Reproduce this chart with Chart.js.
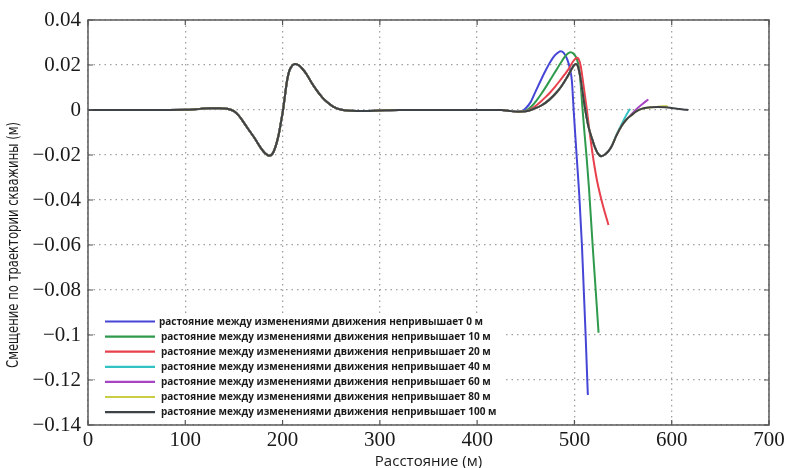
<!DOCTYPE html>
<html><head><meta charset="utf-8">
<script src="https://cdn.jsdelivr.net/npm/chart.js@4.4.1/dist/chart.umd.min.js"></script>
<style>html,body{margin:0;padding:0;background:#fff;}canvas{display:block;}</style>
</head><body>
<canvas id="c" width="791" height="468"></canvas>
<script>
// ---- tick labels ----
const xTickValues = [0, 100, 200, 300, 400, 500, 600, 700];
const xTickLabels = ['0', '100', '200', '300', '400', '500', '600', '700'];
const yTickValues = [0.04, 0.02, 0, -0.02, -0.04, -0.06, -0.08, -0.1, -0.12, -0.14];
const yTickLabels = ['0.04', '0.02', '0', '\u22120.02', '\u22120.04', '\u22120.06', '\u22120.08', '\u22120.1', '\u22120.12', '\u22120.14'];
const xTitle = 'Расстояние (м)';
const yTitle = 'Смещение по траектории скважины (м)';

// ---- series names ----
const seriesLabels = [
  'растояние между изменениями движения непривышает 0 м',
  'растояние между изменениями движения непривышает 10 м',
  'растояние между изменениями движения непривышает 20 м',
  'растояние между изменениями движения непривышает 40 м',
  'растояние между изменениями движения непривышает 60 м',
  'растояние между изменениями движения непривышает 80 м',
  'растояние между изменениями движения непривышает 100 м'
];

// ---- common part of the trajectory (identical for all series) ----
const baseX = [0, 60, 100, 115, 125, 135, 143, 150, 155, 160, 167, 172, 177, 182, 186, 189.5, 192.6, 196, 198.5, 200.5, 202.5, 204.6, 207, 210, 213, 217, 221, 225, 230, 235.5, 241, 246, 252, 259.5, 270, 285, 300, 320, 360, 400, 425, 435];
const baseY = [0, 0, 0.0001, 0.0005, 0.0008, 0.0008, 0.0006, -0.0005, -0.0025, -0.0055, -0.0099, -0.013, -0.0165, -0.0192, -0.0203, -0.0195, -0.0165, -0.011, -0.005, 0, 0.0065, 0.013, 0.0175, 0.0198, 0.0205, 0.0198, 0.018, 0.0157, 0.012, 0.0085, 0.0055, 0.0034, 0.0015, 0.0002, -0.0003, -0.0004, -0.0002, 0, 0, 0, 0, -0.0005];

// ---- individual tails ----
const tail0X = [442, 446, 450, 455, 460, 465, 470, 475, 479, 482.5, 485.6, 489, 492.3, 495, 497.4, 499.2, 501, 503, 505, 507.7, 509.6, 511.5, 513.2, 513.8];
const tail0Y = [-0.0008, -0.0005, 0.0008, 0.0035, 0.0082, 0.0128, 0.0172, 0.0212, 0.0238, 0.0253, 0.0261, 0.0254, 0.0228, 0.019, 0.0129, 0, -0.012, -0.025, -0.038, -0.06, -0.08, -0.1, -0.12, -0.1267];

const tail10X = [442, 446, 451, 456, 461, 466, 471, 476, 481, 486, 490, 493, 495.8, 499, 502.6, 505, 506.8, 508.4, 510.5, 512.7, 515, 519, 522, 524.8];
const tail10Y = [-0.0008, -0.0008, 0, 0.0017, 0.0042, 0.0072, 0.0105, 0.014, 0.0175, 0.021, 0.0236, 0.025, 0.0257, 0.0251, 0.0225, 0.018, 0.0095, 0, -0.011, -0.022, -0.035, -0.062, -0.081, -0.099];

const tail20X = [442, 449.7, 455, 460, 465, 470, 475, 480, 485, 490, 494, 498, 501, 502.8, 504.5, 506.5, 509, 512.8, 515.5, 518.3, 521, 523.5, 529, 535];
const tail20Y = [-0.0008, -0.0006, 0.0004, 0.0018, 0.0036, 0.0056, 0.0078, 0.0103, 0.013, 0.0158, 0.0182, 0.0212, 0.0228, 0.0232, 0.0225, 0.0195, 0.012, 0, -0.0095, -0.0185, -0.026, -0.032, -0.042, -0.0511];

const tail40X = [442, 450, 458, 466, 474, 482, 487, 492, 496.5, 499.5, 501.5, 503.5, 505.5, 508, 511.2, 514.5, 517.9, 521, 524, 527.5, 531, 535, 538.4, 543, 548.6, 553, 557.2];
const tail40Y = [-0.0008, -0.0006, 0.0005, 0.002, 0.0045, 0.008, 0.0108, 0.0142, 0.0177, 0.0198, 0.0204, 0.0195, 0.016, 0.009, 0, -0.0075, -0.0125, -0.0165, -0.0193, -0.0206, -0.0199, -0.0183, -0.016, -0.0112, -0.0062, -0.0025, 0.0005];

const tail60X = [442, 450, 458, 466, 474, 482, 487, 492, 496.5, 499.5, 501.5, 503.5, 505.5, 508, 511.2, 514.5, 517.9, 521, 524, 527.5, 531, 535, 538.4, 543, 548.6, 553.5, 558.9, 564, 570, 576];
const tail60Y = [-0.0008, -0.0006, 0.0005, 0.002, 0.0045, 0.008, 0.0108, 0.0142, 0.0177, 0.0198, 0.0204, 0.0195, 0.016, 0.009, 0, -0.0075, -0.0125, -0.0165, -0.0193, -0.0206, -0.0199, -0.0183, -0.016, -0.0115, -0.007, -0.0042, -0.0018, 0.0005, 0.0027, 0.0047];

const tail80X = [442, 450, 458, 466, 474, 482, 487, 492, 496.5, 499.5, 501.5, 503.5, 505.5, 508, 511.2, 514.5, 517.9, 521, 524, 527.5, 531, 535, 538.4, 543, 548.6, 553.5, 558.9, 564, 569, 574, 579.3, 586, 592, 596];
const tail80Y = [-0.0008, -0.0006, 0.0005, 0.002, 0.0045, 0.008, 0.0108, 0.0142, 0.0177, 0.0198, 0.0204, 0.0195, 0.016, 0.009, 0, -0.0075, -0.0125, -0.0165, -0.0193, -0.0206, -0.0199, -0.0183, -0.016, -0.0115, -0.007, -0.0042, -0.0022, -0.0005, 0.0005, 0.001, 0.0012, 0.0015, 0.0017, 0.0016];

const tail100X = [442, 450, 458, 466, 474, 482, 487, 492, 496.5, 499.5, 501.5, 503.5, 505.5, 508, 511.2, 514.5, 517.9, 521, 524, 527.5, 531, 535, 538.4, 543, 548.6, 553.5, 558.9, 564, 569, 574, 579.3, 586, 593, 600, 606.6, 612, 617];
const tail100Y = [-0.0008, -0.0006, 0.0005, 0.002, 0.0045, 0.008, 0.0108, 0.0142, 0.0177, 0.0198, 0.0204, 0.0195, 0.016, 0.009, 0, -0.0075, -0.0125, -0.0165, -0.0193, -0.0206, -0.0199, -0.0183, -0.016, -0.0115, -0.007, -0.0042, -0.0022, -0.0005, 0.0005, 0.001, 0.0012, 0.0013, 0.0012, 0.0009, 0.0005, 0.0002, 0];

// ---- styles ----
const seriesColors = ['#4646d6', '#2f9a4c', '#e8404c', '#33c2c4', '#a844c4', '#c9cc45', '#3d4246'];
const drawOrder = [6, 5, 4, 3, 2, 1, 0];

const tailsX = [tail0X, tail10X, tail20X, tail40X, tail60X, tail80X, tail100X];
const tailsY = [tail0Y, tail10Y, tail20Y, tail40Y, tail60Y, tail80Y, tail100Y];

function buildPoints(i) {
  const pts = baseX.map((x, k) => ({ x: x, y: baseY[k] }));
  tailsX[i].forEach((x, k) => pts.push({ x: x, y: tailsY[i][k] }));
  return pts;
}

const datasets = seriesLabels.map((lab, i) => ({
  label: lab,
  data: buildPoints(i),
  borderColor: seriesColors[i],
  backgroundColor: seriesColors[i],
  borderWidth: 2,
  pointRadius: 0,
  fill: false,
  cubicInterpolationMode: 'monotone',
  order: drawOrder[i]
}));

const frameAndLegend = {
  id: 'frameAndLegend',
  afterDraw(chart) {
    const ctx = chart.ctx;
    const a = chart.chartArea;
    const xs = chart.scales.x, ys = chart.scales.y;
    ctx.save();
    // legend box
    const lx0 = 95, ly0 = 313, lx1 = 505, ly1 = a.bottom - 1;
    ctx.fillStyle = '#ffffff';
    ctx.fillRect(lx0, ly0, lx1 - lx0, ly1 - ly0);
    ctx.font = 'bold 11px "Open Sans", "DejaVu Sans", sans-serif';
    ctx.textBaseline = 'middle';
    const w0 = ctx.measureText(chart.data.datasets[0].label).width;
    const sx = Math.min(1.1, 324 / w0);
    chart.data.datasets.forEach((ds, i) => {
      const y = 321.5 + i * 15.1;
      ctx.strokeStyle = ds.borderColor;
      ctx.lineWidth = 2.2;
      ctx.beginPath();
      ctx.moveTo(105, y);
      ctx.lineTo(155, y);
      ctx.stroke();
      ctx.fillStyle = '#1a1a1a';
      ctx.save();
      ctx.translate(i === 0 ? 159 : 161, y);
      ctx.scale(sx, 1);
      ctx.fillText(ds.label, 0, 0);
      ctx.restore();
    });
    // frame
    ctx.strokeStyle = '#5a5a5a';
    ctx.lineWidth = 1.5;
    ctx.strokeRect(a.left, a.top, a.right - a.left, a.bottom - a.top);
    // inner ticks
    ctx.lineWidth = 1.2;
    ctx.strokeStyle = '#555';
    ctx.beginPath();
    xTickValues.forEach(v => {
      const px = xs.getPixelForValue(v);
      ctx.moveTo(px, a.bottom); ctx.lineTo(px, a.bottom - 5);
      ctx.moveTo(px, a.top); ctx.lineTo(px, a.top + 5);
    });
    yTickValues.forEach(v => {
      const py = ys.getPixelForValue(v);
      ctx.moveTo(a.left, py); ctx.lineTo(a.left + 5, py);
      ctx.moveTo(a.right, py); ctx.lineTo(a.right - 5, py);
    });
    ctx.stroke();
    // y axis title (squeezed along its length as in the source)
    ctx.font = '15px "DejaVu Sans Condensed", "Open Sans", sans-serif';
    ctx.fillStyle = '#1a1a1a';
    ctx.textAlign = 'center';
    ctx.textBaseline = 'middle';
    const wt = ctx.measureText(yTitle).width;
    ctx.translate(14, 245);
    ctx.rotate(-Math.PI / 2);
    ctx.scale(Math.min(1, 246 / wt), 1);
    ctx.fillText(yTitle, 0, 0);
    ctx.restore();
  }
};

new Chart(document.getElementById('c'), {
  type: 'line',
  data: { datasets: datasets },
  options: {
    responsive: false,
    animation: false,
    devicePixelRatio: 1,
    layout: { padding: { top: 20, right: 22, left: 0, bottom: 0 } },
    plugins: { legend: { display: false }, tooltip: { enabled: false } },
    scales: {
      x: {
        type: 'linear', min: 0, max: 700,
        afterBuildTicks: s => { s.ticks = xTickValues.map(v => ({ value: v })); },
        afterFit: s => { s.height = 43; },
        ticks: {
          callback: (v) => xTickLabels[xTickValues.indexOf(v)],
          font: { family: '"Liberation Serif", "Times New Roman", serif', size: 21 },
          color: '#1a1a1a', padding: 3, maxRotation: 0, autoSkip: false
        },
        grid: { color: '#a0a0a0', lineWidth: 1.3, drawTicks: false },
        border: { display: false, dash: [1.5, 4] },
        title: {
          display: true, text: xTitle, color: '#1a1a1a',
          font: { family: '"Open Sans", sans-serif', size: 15 },
          padding: { top: 0, bottom: -3 }
        }
      },
      y: {
        type: 'linear', min: -0.14, max: 0.04,
        afterBuildTicks: s => { s.ticks = yTickValues.slice().reverse().map(v => ({ value: v })); },
        afterFit: s => { s.width = 88; },
        ticks: {
          callback: (v) => {
            const k = yTickValues.findIndex(t => Math.abs(t - v) < 1e-9);
            return yTickLabels[k];
          },
          font: { family: '"Liberation Serif", "Times New Roman", serif', size: 21 },
          color: '#1a1a1a', padding: 7, autoSkip: false
        },
        grid: { color: '#a0a0a0', lineWidth: 1.3, drawTicks: false },
        border: { display: false, dash: [1.5, 4] },
        title: { display: false }
      }
    }
  },
  plugins: [frameAndLegend]
});
</script>
</body></html>
